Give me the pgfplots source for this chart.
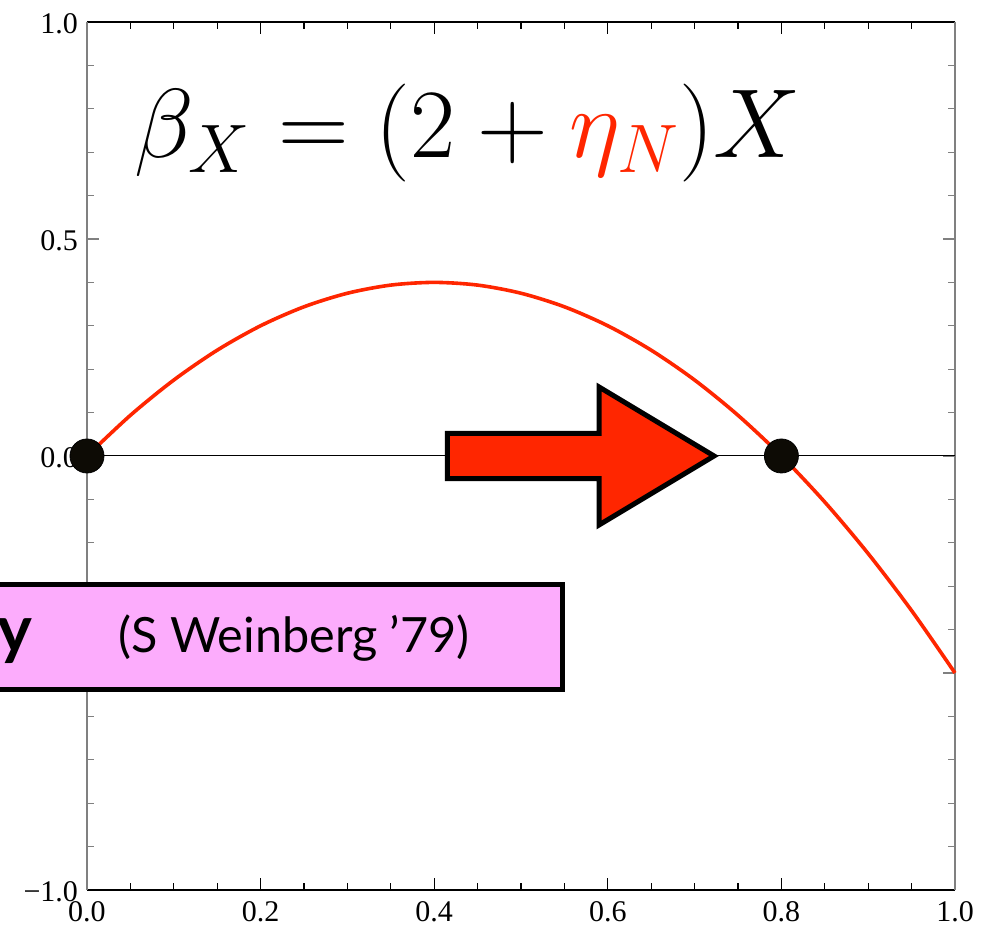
\documentclass[border=0pt]{standalone}
\usepackage{fix-cm}
\usepackage[no-math]{fontspec}
\setmainfont{Liberation Serif}
\newfontfamily\notefont{Lato}
\usepackage{pgfplots}
\pgfplotsset{compat=1.18}

\definecolor{flowred}{RGB}{255,38,0}
\definecolor{notepink}{RGB}{252,172,252}
\definecolor{fpblack}{RGB}{13,11,5}
\newcommand\tickfont{\fontsize{15}{17}\selectfont}

\begin{document}
\begin{tikzpicture}
\begin{axis}[
  at={(0,0)}, anchor=south west,
  scale only axis, width=434pt, height=434pt,
  xmin=0, xmax=1, ymin=-1, ymax=1,
  xtick={0,0.2,0.4,0.6,0.8,1},
  xticklabels={0.0,0.2,0.4,0.6,0.8,1.0},
  ytick={-1,-0.5,0,0.5,1},
  yticklabels={−1.0,−0.5,0.0,0.5,1.0},
  minor x tick num=3, minor y tick num=4,
  tick align=inside,
  major tick length=6pt, minor tick length=3.5pt,
  every tick label/.append style={font=\tickfont},
  xticklabel style={yshift=-2.2pt},
  yticklabel style={xshift=-1pt, yshift=-1pt},
  separate axis lines,
  x axis line style={black, line width=0.8pt},
  y axis line style={gray, line width=0.8pt},
  xtick style={black, line width=0.6pt},
  ytick style={gray, line width=0.6pt},
  clip=false,
]
% beta function of the coupling X
\addplot[flowred, line width=1.8pt, smooth] coordinates {
  (0,0) (0.05,0.09375) (0.1,0.175) (0.15,0.24375) (0.2,0.3)
  (0.25,0.34375) (0.3,0.375) (0.35,0.39375) (0.4,0.4) (0.45,0.39375)
  (0.5,0.375) (0.55,0.34375) (0.6,0.3) (0.65,0.24375) (0.7,0.175)
  (0.75,0.09375) (0.8,0) (0.85,-0.10625) (0.9,-0.225) (0.95,-0.35625)
  (1,-0.5)
};
% zero line
\addplot[black, line width=0.5pt] coordinates {(0,0) (1,0)};
% flow arrow towards the non-trivial fixed point
\draw[black, line width=2.5pt, fill=flowred, line join=miter]
  (axis cs:0.4153,0.052) -- (axis cs:0.5899,0.052) -- (axis cs:0.5899,0.159)
  -- (axis cs:0.7224,0) -- (axis cs:0.5899,-0.159) -- (axis cs:0.5899,-0.052)
  -- (axis cs:0.4153,-0.052) -- cycle;
% Gaussian and non-Gaussian fixed points
\addplot[only marks, mark=*, mark size=8.5pt, fpblack,
  mark options={draw=black, line width=0.4pt}] coordinates {(0,0) (0.8,0)};
\end{axis}

% note box
\draw[black, line width=2.5pt, fill=notepink] (-60pt,100.25pt) rectangle (237.75pt,152.75pt);
\node[anchor=base east, inner sep=0pt] at (-27pt,118.5pt)
  {\notefont\bfseries\fontsize{33}{36}\selectfont y};
\node[anchor=base west, inner sep=0pt] at (15.5pt,118.5pt)
  {\notefont\fontsize{24.3}{28}\selectfont (S Weinberg ’79)};

% equation
\node[anchor=base, inner sep=0pt] at (190.5pt,366pt)
  {\fontsize{49}{55}\selectfont$\beta_X = (2+{\color{flowred}\eta_N})X$};

\pgfresetboundingbox
\useasboundingbox (-43.5pt,-19.5pt) rectangle (452.5pt,445pt);
\end{tikzpicture}
\end{document}
